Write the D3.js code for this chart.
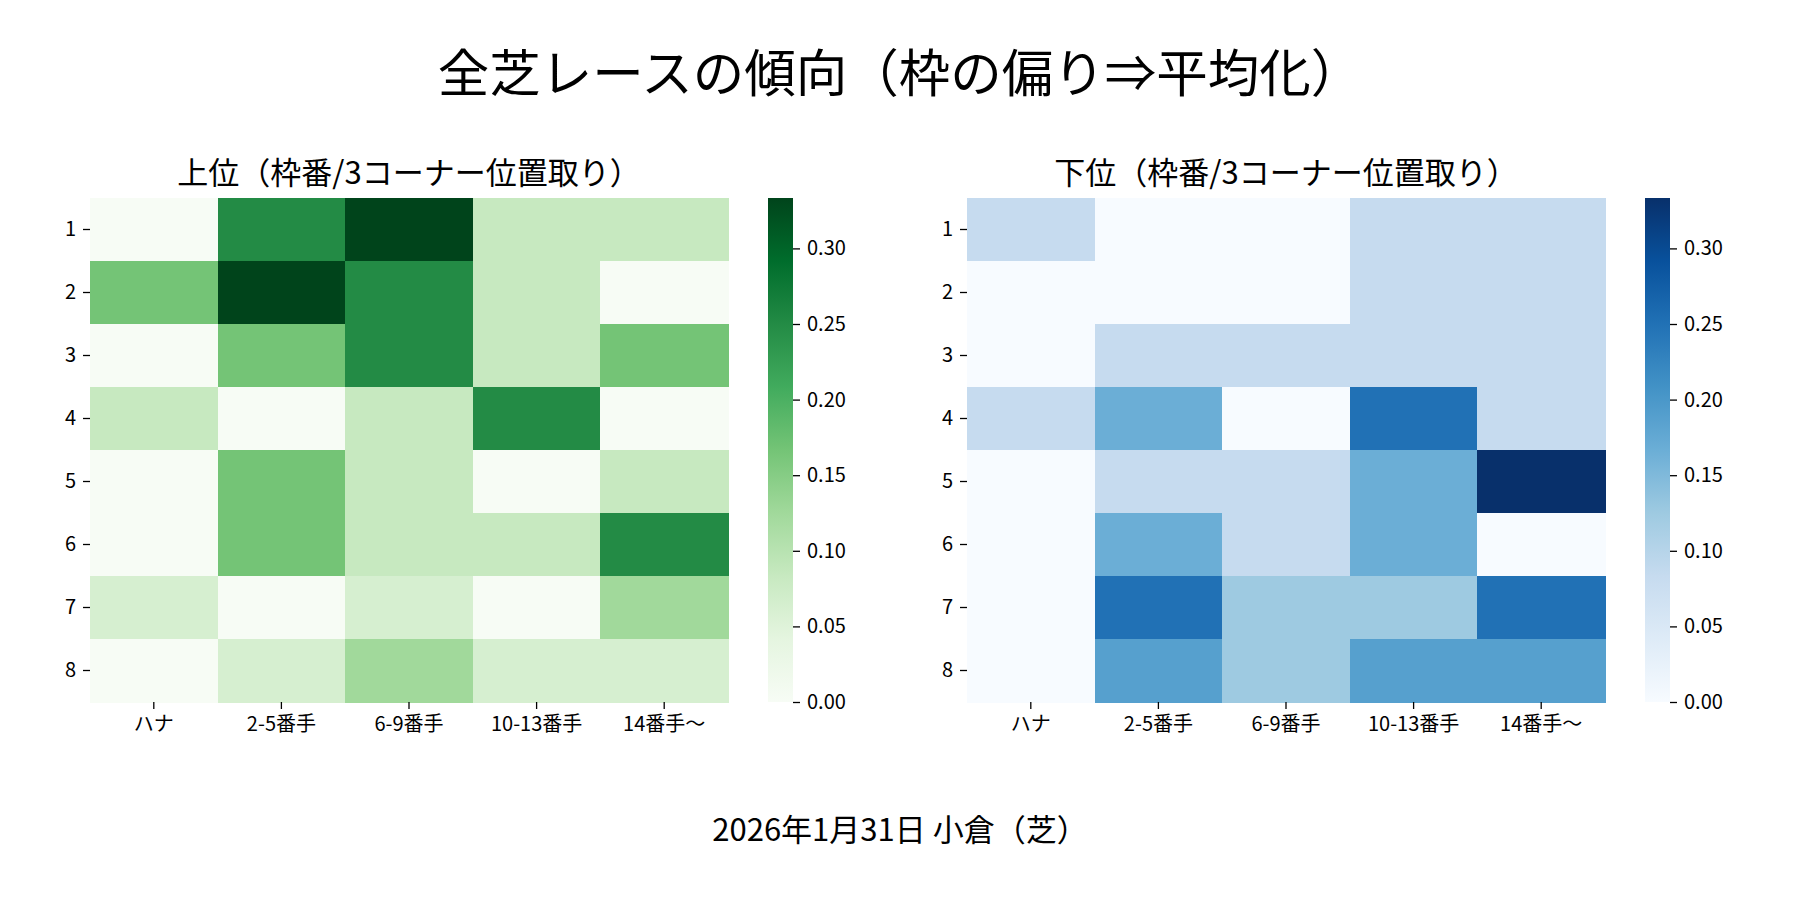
<!DOCTYPE html>
<html>
<head>
<meta charset="utf-8">
<script src="https://cdn.jsdelivr.net/npm/d3@7"></script>
<style>
  body { margin: 0; background: #fff; }
  text { font-family: "Noto Sans CJK JP", "Noto Sans", sans-serif; fill: #000; }
</style>
</head>
<body>
<svg id="chart" width="1800" height="900"></svg>
<script>
const rows = ["1", "2", "3", "4", "5", "6", "7", "8"];
const cols = ["ハナ", "2-5番手", "6-9番手", "10-13番手", "14番手〜"];

// 上位 (rows = 枠番, cols = 3コーナー位置)
const topValues = [
  [0, 0.25, 0.3333, 0.0833, 0.0833],
  [0.1667, 0.3333, 0.25, 0.0833, 0],
  [0, 0.1667, 0.25, 0.0833, 0.1667],
  [0.0833, 0, 0.0833, 0.25, 0],
  [0, 0.1667, 0.0833, 0, 0.0833],
  [0, 0.1667, 0.0833, 0.0833, 0.25],
  [0.0625, 0, 0.0625, 0, 0.125],
  [0, 0.0625, 0.125, 0.0625, 0.0625]
];

// 下位
const bottomValues = [
  [0.0833, 0, 0, 0.0833, 0.0833],
  [0, 0, 0, 0.0833, 0.0833],
  [0, 0.0833, 0.0833, 0.0833, 0.0833],
  [0.0833, 0.1667, 0, 0.25, 0.0833],
  [0, 0.0833, 0.0833, 0.1667, 0.3333],
  [0, 0.1667, 0.0833, 0.1667, 0],
  [0, 0.25, 0.125, 0.125, 0.25],
  [0, 0.1875, 0.125, 0.1875, 0.1875]
];

const cbTicks = [0, 0.05, 0.10, 0.15, 0.20, 0.25, 0.30];
const vmax = 1 / 3;

const greens = ["#f7fcf5", "#e5f5e0", "#c7e9c0", "#a1d99b", "#74c476", "#41ab5d", "#238b45", "#006d2c", "#00441b"];
const blues = ["#f7fbff", "#deebf7", "#c6dbef", "#9ecae1", "#6baed6", "#4292c6", "#2171b5", "#08519c", "#08306b"];

const svg = d3.select("#chart");

svg.append("text")
  .attr("x", 900).attr("y", 92)
  .attr("text-anchor", "middle")
  .attr("font-size", 51.5)
  .text("全芝レースの傾向（枠の偏り⇒平均化）");

svg.append("text")
  .attr("x", 900).attr("y", 841)
  .attr("text-anchor", "middle")
  .attr("font-size", 31)
  .text("2026年1月31日 小倉（芝）");

function drawHeat(values, palette, left, title, id) {
  const top = 198, bottom = 702, width = 638;
  const x = d3.scaleBand().domain(cols).range([left, left + width]);
  const y = d3.scaleBand().domain(rows).range([top, bottom]);
  const stops = palette.map((c, i) => vmax * i / (palette.length - 1));
  const color = d3.scaleLinear().domain(stops).range(palette).interpolate(d3.interpolateRgb).clamp(true);

  const g = svg.append("g");
  const cells = [];
  values.forEach((r, i) => r.forEach((v, j) => cells.push({ row: rows[i], col: cols[j], v })));

  g.selectAll("rect")
    .data(cells)
    .enter()
    .append("rect")
    .attr("x", d => x(d.col))
    .attr("y", d => y(d.row))
    .attr("width", x.bandwidth() + 0.5)
    .attr("height", y.bandwidth() + 0.5)
    .attr("fill", d => color(d.v))
    .attr("shape-rendering", "crispEdges");

  const xAxis = g.append("g")
    .attr("transform", `translate(0,${bottom})`)
    .call(d3.axisBottom(x).tickSize(7).tickPadding(8));
  xAxis.select(".domain").remove();
  xAxis.selectAll("text").attr("font-size", 20).attr("font-family", "Noto Sans CJK JP").attr("fill", "#000");
  xAxis.selectAll("line").attr("stroke", "#000").attr("stroke-width", 1.3);

  const yAxis = g.append("g")
    .attr("transform", `translate(${left},0)`)
    .call(d3.axisLeft(y).tickSize(7).tickPadding(7));
  yAxis.select(".domain").remove();
  yAxis.selectAll("text").attr("font-size", 20).attr("font-family", "Noto Sans CJK JP").attr("fill", "#000");
  yAxis.selectAll("line").attr("stroke", "#000").attr("stroke-width", 1.3);

  svg.append("text")
    .attr("x", left + width / 2).attr("y", 184)
    .attr("text-anchor", "middle")
    .attr("font-size", 31)
    .text(title);

  // colorbar
  const cbLeft = left + 678, cbWidth = 25;
  const cy = d3.scaleLinear().domain([0, vmax]).range([bottom, top]);
  const grad = svg.append("defs").append("linearGradient")
    .attr("id", id).attr("x1", 0).attr("y1", 1).attr("x2", 0).attr("y2", 0);
  grad.selectAll("stop")
    .data(palette)
    .enter()
    .append("stop")
    .attr("offset", (d, i) => i / (palette.length - 1))
    .attr("stop-color", d => d);
  svg.append("rect")
    .attr("x", cbLeft).attr("y", top)
    .attr("width", cbWidth).attr("height", bottom - top)
    .attr("fill", `url(#${id})`);
  const cbAxis = svg.append("g")
    .attr("transform", `translate(${cbLeft + cbWidth},0)`)
    .call(d3.axisRight(cy).tickValues(cbTicks).tickFormat(d3.format(".2f")).tickSize(7).tickPadding(7));
  cbAxis.select(".domain").remove();
  cbAxis.selectAll("text").attr("font-size", 20).attr("font-family", "Noto Sans CJK JP").attr("fill", "#000");
  cbAxis.selectAll("line").attr("stroke", "#000").attr("stroke-width", 1.3);
}

drawHeat(topValues, greens, 90, "上位（枠番/3コーナー位置取り）", "gradGreen");
drawHeat(bottomValues, blues, 967, "下位（枠番/3コーナー位置取り）", "gradBlue");
</script>
</body>
</html>
